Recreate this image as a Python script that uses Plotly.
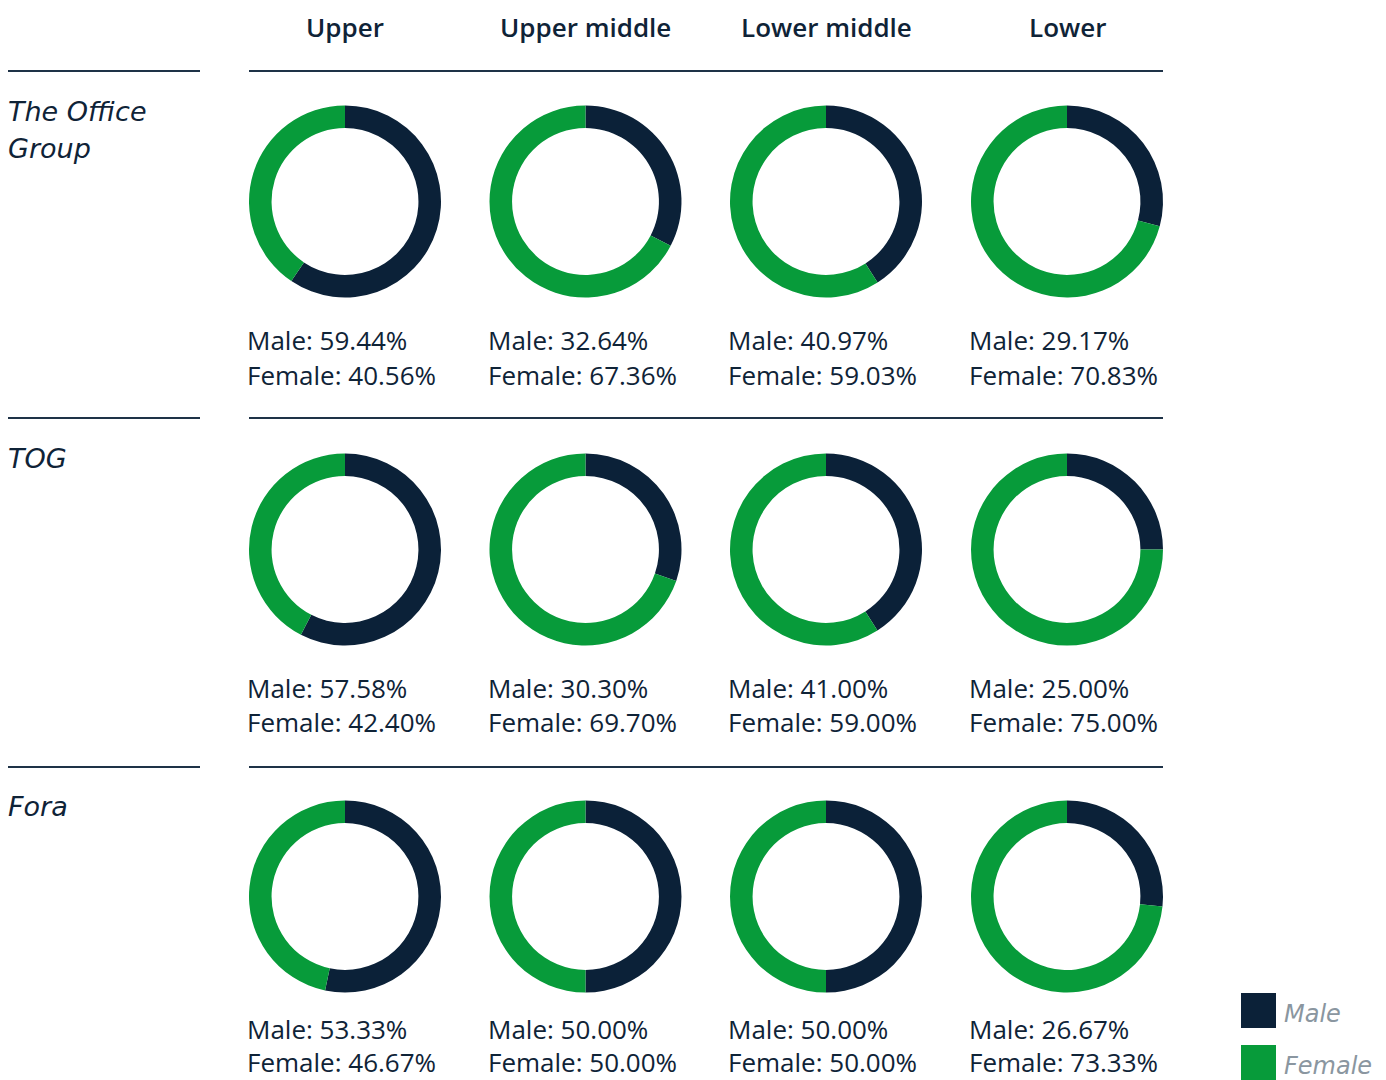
import plotly.graph_objects as go

# The page body has an 8px margin; the figure is sized/positioned to compensate.
OFF = 8
W, H = 1386 - OFF, 1080 - OFF

categories = ["Upper", "Upper middle", "Lower middle", "Lower"]
companies = ["The Office<br>Group", "TOG", "Fora"]
male_pct = [
    [59.44, 32.64, 40.97, 29.17],
    [57.58, 30.30, 41.00, 25.00],
    [53.33, 50.00, 50.00, 26.67],
]
female_pct = [
    [40.56, 67.36, 59.03, 70.83],
    [42.40, 69.70, 59.00, 75.00],
    [46.67, 50.00, 50.00, 73.33],
]
series_names = ["Male", "Female"]

NAVY = "#0b2138"
GREEN = "#079b3a"
TEXT = "#0f2337"
LINE = "#1e3247"
GREY = "#8a96a0"
FONT = "Open Sans"
ITAL_FONT = "DejaVu Sans"

col_cx = [345, 585.5, 826, 1067]
row_cy = [201.5, 549.5, 896.5]
male_text_y = [340, 688, 1029]
female_text_y = [375, 722, 1062]
R = 96

def px(x):
    return (x - OFF) / W

def py(y):
    return 1 - (y - OFF) / H

fig = go.Figure()
annotations = []
shapes = []

for r, comp in enumerate(companies):
    for c, cat in enumerate(categories):
        cx, cy = col_cx[c], row_cy[r]
        fig.add_trace(go.Pie(
            values=[male_pct[r][c], female_pct[r][c]],
            labels=series_names,
            marker=dict(colors=[NAVY, GREEN], line=dict(width=0)),
            hole=0.765,
            sort=False,
            direction="clockwise",
            rotation=0,
            textinfo="none",
            hoverinfo="label+percent",
            showlegend=False,
            domain=dict(x=[px(cx - R), px(cx + R)], y=[py(cy + R), py(cy - R)]),
        ))
        x_left = cx - R - 3
        annotations.append(dict(
            x=px(x_left), y=py(male_text_y[r]), xref="paper", yref="paper",
            xanchor="left", yanchor="middle", showarrow=False, borderpad=0,
            text=f"Male: {male_pct[r][c]:.2f}%",
            font=dict(family=FONT, size=26, color=TEXT),
        ))
        annotations.append(dict(
            x=px(x_left), y=py(female_text_y[r]), xref="paper", yref="paper",
            xanchor="left", yanchor="middle", showarrow=False, borderpad=0,
            text=f"Female: {female_pct[r][c]:.2f}%",
            font=dict(family=FONT, size=26, color=TEXT),
        ))

# column headers
for c, cat in enumerate(categories):
    annotations.append(dict(
        x=px(col_cx[c]), y=py(27), xref="paper", yref="paper",
        xanchor="center", yanchor="middle", showarrow=False,
        text=cat,
        font=dict(family=FONT, size=26, color=TEXT, weight=600),
    ))

# row labels and separator lines
line_y = [71, 418, 767]
label_y = [112, 459, 806]
for r, comp in enumerate(companies):
    for i, part in enumerate(comp.split("<br>")):
        annotations.append(dict(
            x=px(6), y=py(label_y[r] + 36 * i), xref="paper", yref="paper",
            xanchor="left", yanchor="middle", showarrow=False, align="left",
            text=f"<i>{part}</i>",
            font=dict(family=ITAL_FONT, size=27, color=TEXT),
        ))
    shapes.append(dict(type="line", xref="paper", yref="paper",
                       x0=px(8), x1=px(200), y0=py(line_y[r]), y1=py(line_y[r]),
                       line=dict(color=LINE, width=2)))
    shapes.append(dict(type="line", xref="paper", yref="paper",
                       x0=px(249), x1=px(1163), y0=py(line_y[r]), y1=py(line_y[r]),
                       line=dict(color=LINE, width=2)))

# legend
leg_y = [1010.5, 1062.5]
leg_colors = [NAVY, GREEN]
for i, name in enumerate(series_names):
    shapes.append(dict(type="rect", xref="paper", yref="paper",
                       x0=px(1241), x1=px(1276), y0=py(leg_y[i] + 17.5), y1=py(leg_y[i] - 17.5),
                       fillcolor=leg_colors[i], line=dict(width=0)))
    annotations.append(dict(
        x=px(1283), y=py(leg_y[i] + 3), xref="paper", yref="paper",
        xanchor="left", yanchor="middle", showarrow=False, borderpad=0,
        text=f"<i>{name}</i>",
        font=dict(family=ITAL_FONT, size=24, color=GREY),
    ))

fig.update_layout(
    width=W, height=H,
    margin=dict(l=0, r=0, t=0, b=0),
    paper_bgcolor="white", plot_bgcolor="white",
    annotations=annotations, shapes=shapes,
    showlegend=False,
)

fig.write_html("out.html")
